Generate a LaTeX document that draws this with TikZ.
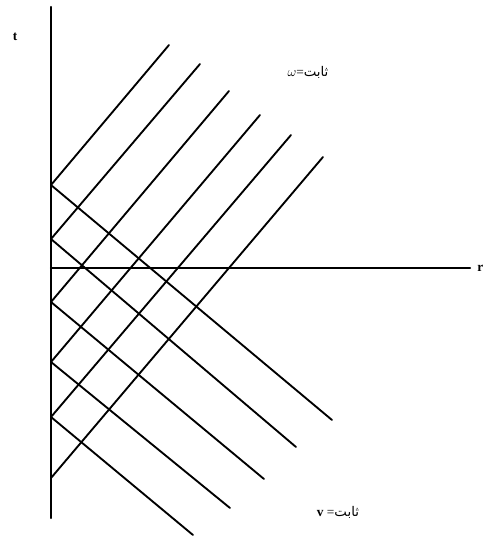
\documentclass[tikz,border=0pt]{standalone}
\usepackage{fontspec}
\setmainfont{Liberation Serif}
\newfontfamily\arabicfont[Script=Arabic]{DejaVu Sans}
\TeXXeTstate=1
\begin{document}
\begin{tikzpicture}[x=0.75pt, y=-0.75pt, line cap=round]
            \useasboundingbox (0,0) rectangle (484,536);
            \tikzset{axisline/.style={line width=1.7pt}, charline/.style={line width=1.4pt}}

            \draw[axisline] (51,7) -- (51,518);
            \draw[axisline] (51,268) -- (470,268);
            \node[font=\bfseries] (tlabel) at (15,37) {t};
            \node[font=\bfseries, anchor=west, inner sep=0pt] (rlabel) at (477,268) {r};

            % lines of constant omega
            \draw[charline] (51,185) -- (169,45);
            \draw[charline] (51,239) -- (200,64);
            \draw[charline] (51,302) -- (229,91);
            \draw[charline] (51,362) -- (260,115);
            \draw[charline] (51,417) -- (291,135);
            \draw[charline] (51,478) -- (323,157);

            % lines of constant v
            \draw[charline] (51,185) -- (332,420);
            \draw[charline] (51,239) -- (296,447);
            \draw[charline] (51,302) -- (264,479);
            \draw[charline] (51,362) -- (230,508);
            \draw[charline] (51,417) -- (193,535);

            \node (omegalabel) at (308,72) {$\omega$={\arabicfont\beginR ثابت\endR}};
            \node (vlabel) at (338,512) {\textbf{v} ={\arabicfont\beginR ثابت\endR}};
        \end{tikzpicture}
\end{document}
